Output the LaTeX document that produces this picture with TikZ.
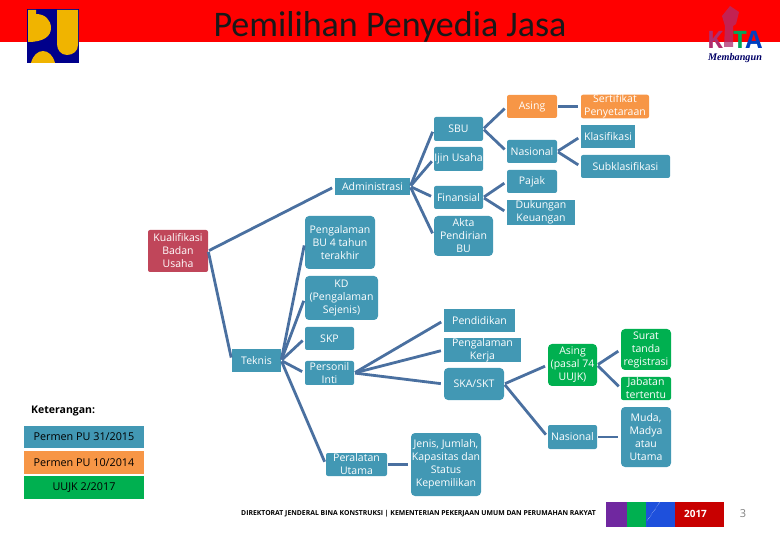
\documentclass[tikz,border=0pt]{standalone}
\usepackage{fontspec}
\setmainfont{Open Sans}
\newfontfamily\titlefont{Carlito}
\newfontfamily\logofont{Liberation Serif}
\definecolor{bandred}{RGB}{255,0,0}
\definecolor{boxteal}{RGB}{66,152,180}
\definecolor{boxorange}{RGB}{247,150,70}
\definecolor{boxgreen}{RGB}{0,176,80}
\definecolor{boxcrimson}{RGB}{192,70,90}
\definecolor{linkblue}{RGB}{74,112,160}
\definecolor{logonavy}{RGB}{0,0,139}
\definecolor{logoyellow}{RGB}{240,180,0}
\definecolor{armpurple}{RGB}{175,45,110}
\definecolor{barpurple}{RGB}{112,40,160}
\definecolor{barblue}{RGB}{30,80,220}
\definecolor{barred}{RGB}{200,0,0}
\begin{document}
\begin{tikzpicture}[x=1pt,y=-1pt,
    box/.style={rectangle, rounded corners=2pt, inner sep=0pt, text=white,
                align=center, font=\fontsize{10.5}{13}\selectfont},
    teal/.style={box, fill=boxteal},
    orng/.style={box, fill=boxorange},
    grn/.style={box, fill=boxgreen},
    crim/.style={box, fill=boxcrimson},
    legend/.style={rectangle, inner sep=0pt, minimum width=120pt,
                   font=\fontsize{10.8}{12}\selectfont},
    logoletter/.style={font=\fontsize{24}{24}\bfseries\selectfont, anchor=base, inner sep=0pt},
    link/.style={linkblue, line width=2.8pt, shorten <=1pt, shorten >=3pt}]
    \useasboundingbox (0,0) rectangle (780,540);
    % Header band and title
    \fill[bandred] (0,0) rectangle (780,42);
    \node[font=\titlefont\fontsize{36}{38}\selectfont, text=black!90, anchor=base] (title) at (390,36.5) {Pemilihan Penyedia Jasa};

    % Left logo
    \fill[logonavy] (27,9) rectangle (79,63);
    \fill[logoyellow] (28,10) -- (36,10) -- (36,14) .. controls (45,14) and (51,20) .. (51,28)
      .. controls (51,36) and (44,42) .. (28,42) -- cycle;
    \fill[logoyellow] (57,10) -- (78,10) -- (78,45) .. controls (78,51) and (73,55) .. (67,55)
      .. controls (61,55) and (57,50) .. (57,44) -- cycle;
    \fill[logoyellow] (31,63) .. controls (33,55) and (38,51) .. (43,51)
      .. controls (48,51) and (53,55) .. (55,63) -- cycle;

    % Right logo
    \fill[armpurple, opacity=.75] (724,47) -- (725,26) -- (722,16) -- (730,6) -- (739,12) -- (736,24) -- (733,26) -- (733,47) -- cycle;
    \node[logoletter, text=armpurple] (logok) at (715,49) {K};
    \node[logoletter, text=teal!70!green] (logot) at (740,49) {T};
    \node[logoletter, text=blue!50!teal] (logoa) at (754,49) {A};
    \node[font=\logofont\fontsize{10.2}{10.2}\bfseries\itshape\selectfont, text=blue!40!black, inner sep=0pt] (membangun) at (735,58) {Membangun};

    % Root
    \node[crim, minimum width=60pt, minimum height=42pt] (kual) at (178,251) {Kualifikasi\\Badan\\Usaha};

    % Administrasi branch
    \node[teal, rounded corners=0pt, minimum width=75pt, minimum height=17pt] (admin) at (372.5,186.5) {Administrasi};
    \node[teal, rounded corners=4pt, minimum width=70pt, minimum height=53pt] (pbu) at (340,242.5) {Pengalaman\\BU 4 tahun\\terakhir};
    \node[teal, minimum width=49pt, minimum height=24pt] (sbu) at (458.5,129) {SBU};
    \node[teal, minimum width=49pt, minimum height=24pt] (ijin) at (458.5,159) {Ijin Usaha};
    \node[teal, minimum width=49pt, minimum height=23pt] (fin) at (458.5,197.5) {Finansial};
    \node[teal, rounded corners=4pt, minimum width=59pt, minimum height=40pt] (akta) at (463.5,236) {Akta\\Pendirian\\BU};
    \node[orng, minimum width=50pt, minimum height=23pt] (asing) at (532,106.5) {Asing};
    \node[teal, minimum width=50pt, minimum height=23pt] (nas) at (532,151.5) {Nasional};
    \node[teal, minimum width=50pt, minimum height=23pt] (pajak) at (532,181.5) {Pajak};
    \node[teal, rounded corners=0pt, minimum width=68pt, minimum height=25pt] (duk) at (541,212.5) {Dukungan\\Keuangan};
    \node[orng, minimum width=68pt, minimum height=23pt] (sert) at (615,106.5) {Sertifikat\\Penyetaraan};
    \node[teal, rounded corners=0pt, minimum width=54pt, minimum height=23pt] (klas) at (608,136.5) {Klasifikasi};
    \node[teal, minimum width=89pt, minimum height=23pt] (subk) at (625.5,166.5) {Subklasifikasi};

    % Teknis branch
    \node[teal, rounded corners=0pt, minimum width=49pt, minimum height=23pt] (tek) at (256.5,360.5) {Teknis};
    \node[teal, rounded corners=4pt, minimum width=73pt, minimum height=44pt] (kd) at (341.5,298) {KD\\(Pengalaman\\Sejenis)};
    \node[teal, minimum width=49pt, minimum height=23pt] (skp) at (329.5,338.5) {SKP};
    \node[teal, minimum width=49pt, minimum height=24pt] (pers) at (329.5,373) {Personil\\Inti};
    \node[teal, minimum width=61pt, minimum height=23pt] (peral) at (356.5,464.5) {Peralatan\\Utama};
    \node[teal, rounded corners=4pt, minimum width=70pt, minimum height=63pt] (jenis) at (446,464.5) {Jenis, Jumlah,\\Kapasitas dan\\Status\\Kepemilikan};
    \node[teal, rounded corners=0pt, minimum width=71pt, minimum height=23pt] (pend) at (479.5,320.5) {Pendidikan};
    \node[teal, rounded corners=0pt, minimum width=77pt, minimum height=22pt] (pker) at (482.5,350) {Pengalaman\\Kerja};
    \node[teal, rounded corners=4pt, minimum width=60pt, minimum height=32pt] (ska) at (474,384) {SKA/SKT};
    \node[grn, rounded corners=4pt, minimum width=49pt, minimum height=42pt] (apasal) at (572.5,365) {Asing\\(pasal 74\\UUJK)};
    \node[teal, minimum width=49pt, minimum height=24pt] (nas2) at (572.5,437) {Nasional};
    \node[grn, rounded corners=4pt, minimum width=50pt, minimum height=41pt] (surat) at (646,349.5) {Surat\\tanda\\registrasi};
    \node[grn, minimum width=50pt, minimum height=23pt] (jab) at (646,388.5) {Jabatan\\tertentu};
    \node[teal, rounded corners=4pt, minimum width=50pt, minimum height=60pt] (muda) at (646,437) {Muda,\\Madya\\atau\\Utama};

    % Links
    \draw[link] (kual.east) -- (admin.west);
    \draw[link] (kual.east) -- (tek.west);
    \foreach \t in {sbu,ijin,fin,akta}{
      \draw[link] (admin.east) -- (\t.west);
    }
    \draw[link] (sbu.east) -- (asing.west);
    \draw[link] (sbu.east) -- (nas.west);
    \draw[link] (asing.east) -- (sert.west);
    \draw[link] (nas.east) -- (klas.west);
    \draw[link] (nas.east) -- (subk.west);
    \draw[link] (fin.east) -- (pajak.west);
    \draw[link] (fin.east) -- (duk.west);
    \foreach \t in {pbu,kd,skp,pers,peral}{
      \draw[link] (tek.east) -- (\t.west);
    }
    \foreach \t in {pend,pker,ska}{
      \draw[link] (pers.east) -- (\t.west);
    }
    \draw[link] (peral.east) -- (jenis.west);
    \draw[link] (ska.east) -- (apasal.west);
    \draw[link] (ska.east) -- (nas2.west);
    \draw[link] (apasal.east) -- (surat.west);
    \draw[link] (apasal.east) -- (jab.west);
    \draw[link] (nas2.east) -- (muda.west);

    % Legend
    \node[font=\fontsize{10.5}{12}\bfseries\selectfont, anchor=west, inner sep=0pt] (ket) at (31,411) {Keterangan:};
    \node[legend, fill=boxteal, minimum height=22pt] (lg1) at (84,437) {Permen PU 31/2015};
    \node[legend, fill=boxorange, minimum height=23pt] (lg2) at (84,462.5) {Permen PU 10/2014};
    \node[legend, fill=boxgreen, minimum height=23pt] (lg3) at (84,487.5) {UUJK 2/2017};

    % Footer
    \node[font=\fontsize{6.85}{8}\bfseries\selectfont, anchor=west, inner sep=0pt] (foot) at (241,514)
      {DIREKTORAT JENDERAL BINA KONSTRUKSI | KEMENTERIAN PEKERJAAN UMUM DAN PERUMAHAN RAKYAT};
    \fill[barpurple] (606,502) rectangle (627,527);
    \fill[boxgreen] (627,502) rectangle (646,527);
    \fill[barblue] (646,502) rectangle (675,527);
    \fill[barred] (675,502) rectangle (724,527);
    \draw[white, densely dotted, thin] (647,521) -- (660,502);
    \node[font=\fontsize{10}{12}\bfseries\selectfont, text=white] (year) at (695.5,514) {2017};
    \node[font=\fontsize{11}{12}\selectfont, text=gray] (page) at (743,514) {3};
\end{tikzpicture}
\end{document}
